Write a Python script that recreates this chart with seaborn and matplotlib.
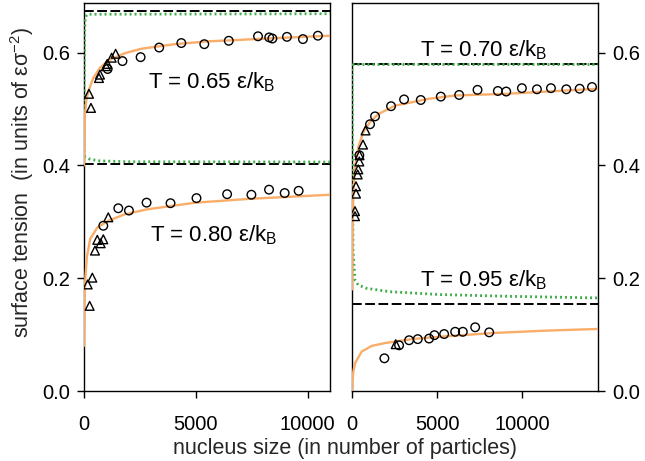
import numpy as np
import pandas as pd
import matplotlib
matplotlib.use('Agg')
import matplotlib.pyplot as plt
import seaborn as sns

sns.set_style('ticks')
plt.rcParams['font.family'] = ['Liberation Sans', 'DejaVu Sans']
plt.rcParams['mathtext.fontset'] = 'custom'
plt.rcParams['mathtext.rm'] = 'Liberation Sans'
plt.rcParams['mathtext.it'] = 'Liberation Sans:italic'

# ---------------- data: left panel ----------------
# T = 0.65
tri65_x = [223, 312, 670, 714, 982, 1040, 1237, 1415]
tri65_y = [0.527, 0.502, 0.555, 0.561, 0.576, 0.580, 0.591, 0.598]
cir65_x = [1058, 1720, 2531, 3362, 4352, 5379, 6473, 7781, 8281, 8424, 9075, 9790, 10459]
cir65_y = [0.571, 0.585, 0.592, 0.609, 0.617, 0.615, 0.621, 0.629, 0.627, 0.625, 0.628, 0.624, 0.630]
fit65_x = [2, 20, 45, 100, 192, 415, 714, 1085, 1830, 2576, 4062, 5535, 6652, 8156, 11000]
fit65_y = [0.40, 0.45, 0.49, 0.515, 0.531, 0.555, 0.573, 0.586, 0.599, 0.607, 0.615, 0.620, 0.622, 0.625, 0.630]
grn65_x = [2, 10, 30, 60, 150, 11000]
grn65_y = [0.416, 0.55, 0.64, 0.663, 0.668, 0.669]
planar65 = 0.673

# T = 0.80
tri80_x = [253, 164, 372, 491, 595, 744, 863, 1086]
tri80_y = [0.151, 0.189, 0.201, 0.249, 0.268, 0.262, 0.269, 0.308]
cir80_x = [863, 1533, 2009, 2798, 3869, 5030, 6399, 7485, 8274, 8973, 9598]
cir80_y = [0.293, 0.324, 0.320, 0.334, 0.333, 0.342, 0.349, 0.348, 0.357, 0.351, 0.355]
fit80_x = [2, 20, 60, 130, 280, 600, 1100, 1800, 2800, 5000, 7500, 11000]
fit80_y = [0.08, 0.15, 0.20, 0.238, 0.27, 0.29, 0.302, 0.313, 0.322, 0.334, 0.341, 0.348]
grn80_x = [2, 270, 714, 2054, 11000]
grn80_y = [0.416, 0.411, 0.408, 0.4065, 0.406]
planar80 = 0.403

# ---------------- data: right panel ----------------
# T = 0.70
tri70_x = [176, 176, 235, 235, 335, 370, 430, 441, 647, 794]
tri70_y = [0.310, 0.319, 0.350, 0.363, 0.384, 0.393, 0.407, 0.418, 0.437, 0.462]
cir70_x = [431, 1059, 1353, 2294, 3059, 4039, 5216, 6294, 7373, 8569, 9059, 9980,
           10863, 11686, 12588, 13372, 14098]
cir70_y = [0.418, 0.473, 0.487, 0.505, 0.517, 0.516, 0.522, 0.525, 0.534, 0.532, 0.531, 0.537,
           0.535, 0.537, 0.535, 0.536, 0.539]
fit70_x = [2, 30, 76, 176, 370, 665, 1059, 1547, 2529, 4488, 6059, 9098, 14450]
fit70_y = [0.18, 0.28, 0.35, 0.397, 0.432, 0.459, 0.477, 0.491, 0.506, 0.518, 0.524, 0.527, 0.536]
grn70_x = [0, 14450]
grn70_y = [0.580, 0.580]
planar70 = 0.580

# T = 0.95
tri95_x = [2569]
tri95_y = [0.083]
cir95_x = [1902, 2765, 3353, 3863, 4529, 4843, 5412, 6059, 6510, 7235, 8059]
cir95_y = [0.058, 0.081, 0.090, 0.092, 0.093, 0.099, 0.101, 0.105, 0.105, 0.113, 0.104]
fit95_x = [2, 20, 80, 176, 570, 1158, 1941, 3511, 5470, 8411, 11352, 14450]
fit95_y = [0.0, 0.014, 0.035, 0.049, 0.070, 0.080, 0.085, 0.092, 0.097, 0.103, 0.107, 0.110]
grn95_x = [2, 60, 176, 370, 865, 2235, 5176, 9098, 14450]
grn95_y = [0.58, 0.25, 0.196, 0.188, 0.182, 0.176, 0.171, 0.168, 0.165]
planar95 = 0.155

left_xlim = (0, 11000)
right_xlim = (0, 14450)
ylim = (0, 0.688)
xticks = [0, 5000, 10000]
yticks = [0.0, 0.2, 0.4, 0.6]
ytick_labels = ['0.0', '0.2', '0.4', '0.6']

ORANGE = '#f9ad68'
GREEN = '#3fae4a'

fig = plt.figure(figsize=(6.45, 4.61), dpi=100)
axL = fig.add_axes([84 / 645, 70 / 461, 246 / 645, 388 / 461])
axR = fig.add_axes([352 / 645, 70 / 461, 246 / 645, 388 / 461])

dash_style = (0, (5, 1.8))
dot_style = (0, (0.7, 1.1))


def draw(ax, xlim, planar, grn_x, grn_y, fit_x, fit_y, tri_x, tri_y, cir_x, cir_y):
    sns.lineplot(x=list(xlim), y=[planar, planar], ax=ax, color='black', lw=1.4,
                 linestyle=dash_style, zorder=2)
    sns.lineplot(x=grn_x, y=grn_y, ax=ax, color=GREEN, lw=2.0, linestyle=dot_style,
                 zorder=3, sort=False)
    sns.lineplot(x=fit_x, y=fit_y, ax=ax, color=ORANGE, lw=1.7, zorder=4, sort=False)
    sns.scatterplot(x=tri_x, y=tri_y, ax=ax, marker='^', s=40, facecolors='none',
                    edgecolor='black', linewidth=1.0, zorder=5)
    sns.scatterplot(x=cir_x, y=cir_y, ax=ax, marker='o', s=38, facecolors='none',
                    edgecolor='black', linewidth=1.0, zorder=5)


draw(axL, left_xlim, planar65, grn65_x, grn65_y, fit65_x, fit65_y, tri65_x, tri65_y, cir65_x, cir65_y)
draw(axL, left_xlim, planar80, grn80_x, grn80_y, fit80_x, fit80_y, tri80_x, tri80_y, cir80_x, cir80_y)
draw(axR, right_xlim, planar70, grn70_x, grn70_y, fit70_x, fit70_y, tri70_x, tri70_y, cir70_x, cir70_y)
draw(axR, right_xlim, planar95, grn95_x, grn95_y, fit95_x, fit95_y, tri95_x, tri95_y, cir95_x, cir95_y)

for ax, xl in ((axL, left_xlim), (axR, right_xlim)):
    ax.set_xlim(*xl)
    ax.set_ylim(*ylim)
    ax.set_xticks(xticks)
    ax.set_xticklabels([str(t) for t in xticks])
    ax.set_yticks(yticks)
    ax.set_yticklabels(ytick_labels)
    ax.set_xlabel('')
    ax.set_ylabel('')
    for s in ax.spines.values():
        s.set_linewidth(1.0)
        s.set_color('black')
    ax.tick_params(axis='both', direction='out', length=5, width=1.0,
                   labelsize=14.5, colors='black', pad=5)
    ax.tick_params(axis='x', pad=12)

axR.yaxis.tick_right()
axR.tick_params(axis='y', left=False, right=True, labelleft=False, labelright=True)

lab_kw = dict(fontsize=16, va='center', ha='left', color='black')
axL.text(2857, 0.548, 'T = 0.65 ε/k$_\\mathregular{B}$', **lab_kw)
axL.text(2950, 0.277, 'T = 0.80 ε/k$_\\mathregular{B}$', **lab_kw)
axR.text(3980, 0.604, 'T = 0.70 ε/k$_\\mathregular{B}$', **lab_kw)
axR.text(3980, 0.196, 'T = 0.95 ε/k$_\\mathregular{B}$', **lab_kw)

fig.text(345 / 645, 1 - 448 / 461, 'nucleus size (in number of particles)',
         fontsize=15.5, ha='center', va='center')
fig.text(22 / 645, 1 - 182 / 461, 'surface tension  (in units of εσ$^{\\mathregular{-2}}$)',
         fontsize=15.5, ha='center', va='center', rotation=90)

fig.savefig('out.png', dpi=100, facecolor='white')
